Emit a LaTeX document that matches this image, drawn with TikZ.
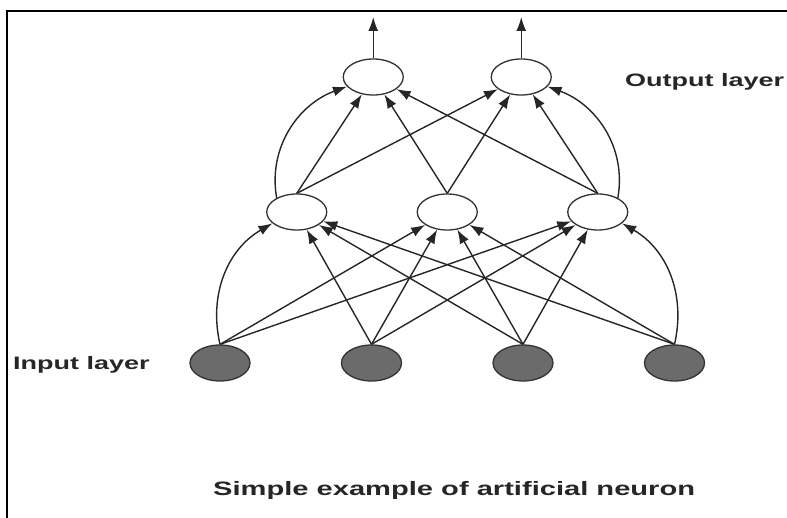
\documentclass[tikz,border=0pt]{standalone}
\usepackage{fontspec}
\setmainfont{Liberation Sans}
\newfontfamily\labelfont{Liberation Sans}[FakeStretch=1.5]
\usetikzlibrary{
  shapes.geometric,
  positioning,
  arrows.meta
}

\tikzset{
  neuron/.style = {ellipse, draw=black!80, line width=1.3pt,
    minimum width=60pt, minimum height=36pt, inner sep=0pt},
  input/.style = {neuron, fill=black!58},
  unit/.style = {neuron, fill=white},
  link/.style = {-{Latex[length=14pt,width=10pt]}, line width=1.4pt, draw=black!85},
  caption/.style = {font=\labelfont\bfseries\fontsize{18}{20}\selectfont,
    text=black!85, inner sep=0pt}
}

\begin{document}
\begin{tikzpicture}[x=1pt, y=1pt, node distance = 151.5pt, on grid]
    \useasboundingbox (0,0) rectangle (787,-518);
    \draw[line width=2pt] (787,-11) -- (7,-11) -- (7,-518);

    % input layer
    \node[input] (i1) at (220,-363) {};
    \node[input, right = of i1] (i2) {};
    \node[input, right = of i2] (i3) {};
    \node[input, right = of i3] (i4) {};

    % hidden layer
    \node[unit, above right = 151pt and 75.75pt of i2] (h2) {};
    \node[unit, left = 150.5pt of h2] (h1) {};
    \node[unit, right = 150.5pt of h2] (h3) {};

    % output layer
    \node[unit, above left = 135pt and 74pt of h2] (o1) {};
    \node[unit, above right = 135pt and 74pt of h2] (o2) {};
    \coordinate[above = 60pt of o1] (y1);
    \coordinate[above = 60pt of o2] (y2);

    \node[caption, anchor=base west] (inlabel) at (13,-370) {Input layer};
    \node[caption, anchor=base west] (outlabel) at (625,-87) {Output layer};
    \node[caption, anchor=base west, font=\labelfont\bfseries\fontsize{19.4}{21}\selectfont]
      (title) at (213,-495) {Simple example of artificial neuron};

    \draw[link] (i1.north) to[out=103, in=210] (h1.205);
    \draw[link] (i1.north) -- (h2);
    \draw[link] (i1.north) -- (h3);
    \draw[link] (i2.north) -- (h1);
    \draw[link] (i2.north) -- (h2);
    \draw[link] (i2.north) -- (h3);
    \draw[link] (i3.north) -- (h1);
    \draw[link] (i3.north) -- (h2);
    \draw[link] (i3.north) -- (h3);
    \draw[link] (i4.north) -- (h1);
    \draw[link] (i4.north) -- (h2);
    \draw[link] (i4.north) to[out=77, in=-30] (h3.-25);

    \draw[link] (h1.145) to[out=100, in=200] (o1.200);
    \draw[link] (h1.north) -- (o1);
    \draw[link] (h1.north) -- (o2);
    \draw[link] (h2.north) -- (o1);
    \draw[link] (h2.north) -- (o2);
    \draw[link] (h3.north) -- (o1);
    \draw[link] (h3.north) -- (o2);
    \draw[link] (h3.35) to[out=80, in=-20] (o2.-20);

    \draw[link] (o1) -- (y1);
    \draw[link] (o2) -- (y2);
\end{tikzpicture}
\end{document}
